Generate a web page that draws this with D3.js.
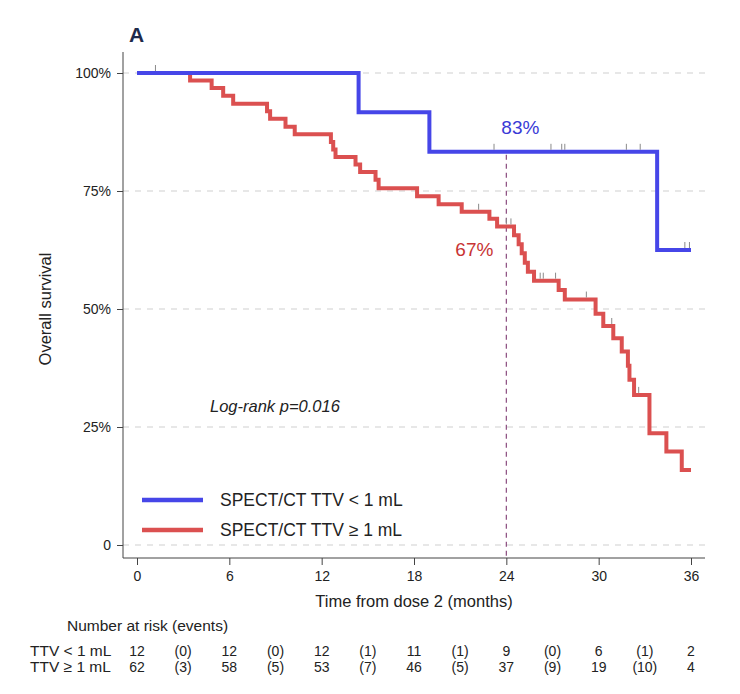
<!DOCTYPE html>
<html><head><meta charset="utf-8">
<script src="https://cdn.jsdelivr.net/npm/d3@7"></script>
<style>
body{margin:0;background:#fff}
text{font-family:"Liberation Sans",Arial,Helvetica,sans-serif;fill:#222}
</style>
</head><body><svg id="c" width="740" height="694"></svg>
<script>
// ---- data ----
const xTicks = [0, 6, 12, 18, 24, 30, 36];
const yTicks = [0, 0.25, 0.5, 0.75, 1];
const yTickLabels = ["0", "25%", "50%", "75%", "100%"];

const blueTimes = [0, 14.4, 19.0, 33.8];
const blueSurv  = [1, 0.917, 0.833, 0.625];
const blueCensor = [23.2, 26.9, 27.6, 27.8, 31.8, 32.7, 35.6, 35.9];

const redTimes = [0, 3.45, 4.85, 5.6, 6.25, 8.45, 8.65, 9.65, 10.25, 12.6, 12.75, 12.9, 14.2, 14.5, 15.5, 15.7,
  18.2, 19.6, 21.1, 22.9, 23.4, 24.5, 24.8, 25.0, 25.2, 25.4, 25.8, 27.4, 27.8, 29.8, 30.3, 30.95, 31.5, 31.9, 32.0,
  32.3, 33.3, 34.4, 35.4];
const redSurv = [1, 0.984, 0.968, 0.952, 0.935, 0.919, 0.903, 0.886, 0.870, 0.854, 0.838, 0.822, 0.806, 0.790, 0.774, 0.756,
  0.739, 0.722, 0.706, 0.691, 0.675, 0.656, 0.637, 0.618, 0.598, 0.579, 0.560, 0.540, 0.520, 0.490, 0.464, 0.438, 0.410, 0.380, 0.350,
  0.318, 0.237, 0.198, 0.159];
const redCensor = [1.2, 22.2, 24.0, 24.3, 26.2, 26.4, 27.2, 29.2, 30.85, 32.6];
const endTime = 36;

const riskTimes = [0, 6, 12, 18, 24, 30, 36];
const riskLow = [12, 12, 12, 11, 9, 6, 2];
const eventsLow = [0, 0, 1, 1, 0, 1];
const riskHigh = [62, 58, 53, 46, 37, 19, 4];
const eventsHigh = [3, 5, 7, 5, 9, 10];

const markTime = 24;
const blueLabel = "83%", redLabel = "67%";

// ---- drawing ----
const svg = d3.select("#c");
const x = d3.scaleLinear().domain([0, 36]).range([137, 691]);
const y = d3.scaleLinear().domain([0, 1]).range([545, 73]);
const xAxisY = 558, yAxisX = 123;
const xLeft = yAxisX, xRight = 705, yTop = 52;

const BLUE = "#4646e8", RED = "#db5050";

// grid
svg.append("g").selectAll("line").data(yTicks).join("line")
  .attr("x1", xLeft).attr("x2", xRight).attr("y1", d => y(d)).attr("y2", d => y(d))
  .attr("stroke", "#cfcfcf").attr("stroke-width", 1).attr("stroke-dasharray", "6,6");

// axes
const gy = svg.append("g").attr("transform", `translate(${yAxisX},0)`)
  .call(d3.axisLeft(y).tickValues(yTicks).tickFormat((d, i) => yTickLabels[i]).tickSize(6).tickPadding(6));
gy.select(".domain").remove();
gy.selectAll("text").style("font-size", "14px").attr("fill", "#222");
gy.selectAll("line").attr("stroke", "#444");
svg.append("line").attr("x1", yAxisX).attr("x2", yAxisX).attr("y1", yTop).attr("y2", xAxisY).attr("stroke", "#444");

const gx = svg.append("g").attr("transform", `translate(0,${xAxisY})`)
  .call(d3.axisBottom(x).tickValues(xTicks).tickFormat(d3.format("d")).tickSize(7).tickPadding(6));
gx.select(".domain").remove();
gx.selectAll("text").style("font-size", "14px").attr("fill", "#222");
gx.selectAll("line").attr("stroke", "#444");
svg.append("line").attr("x1", xLeft).attr("x2", xRight).attr("y1", xAxisY).attr("y2", xAxisY).attr("stroke", "#444");

// axis titles
svg.append("text").attr("x", (x(0) + x(36)) / 2).attr("y", 607).attr("text-anchor", "middle")
  .style("font-size", "16.5px").text("Time from dose 2 (months)");
svg.append("text").attr("transform", `translate(51,${y(0.5)}) rotate(-90)`).attr("text-anchor", "middle")
  .style("font-size", "16.5px").text("Overall survival");

// panel letter
svg.append("text").attr("x", 129).attr("y", 42).style("font-size", "21px").style("font-weight", "bold")
  .style("fill", "#1e2a4a").text("A");

// dashed vertical at 24
const stepVal = (times, surv, t) => surv[Math.max(0, d3.bisectRight(times, t) - 1)];
svg.append("line").attr("x1", x(markTime)).attr("x2", x(markTime))
  .attr("y1", y(stepVal(blueTimes, blueSurv, markTime)) + 3).attr("y2", xAxisY)
  .attr("stroke", "#8a4a7e").attr("stroke-width", 1.2).attr("stroke-dasharray", "5,4");

// curves
const line = d3.line().x(d => x(d[0])).y(d => y(d[1])).curve(d3.curveStepAfter);
function pts(times, surv) {
  const p = times.map((t, i) => [t, surv[i]]);
  p.push([endTime, surv[surv.length - 1]]);
  return p;
}
svg.append("path").attr("d", line(pts(redTimes, redSurv))).attr("fill", "none")
  .attr("stroke", RED).attr("stroke-width", 4);
svg.append("path").attr("d", line(pts(blueTimes, blueSurv))).attr("fill", "none")
  .attr("stroke", BLUE).attr("stroke-width", 4);

// censor marks
function censor(times, surv, cs) {
  svg.append("g").selectAll("line").data(cs).join("line")
    .attr("x1", d => x(d)).attr("x2", d => x(d))
    .attr("y1", d => y(stepVal(times, surv, d)) - 2).attr("y2", d => y(stepVal(times, surv, d)) - 8)
    .attr("stroke", "#8a8a8a").attr("stroke-width", 1);
}
censor(redTimes, redSurv, redCensor);
censor(blueTimes, blueSurv, blueCensor);

// value labels
svg.append("text").attr("x", x(markTime) + 14).attr("y", 134).attr("text-anchor", "middle")
  .style("font-size", "19px").style("fill", "#3a3ad6").text(blueLabel);
svg.append("text").attr("x", x(markTime) - 32).attr("y", 256).attr("text-anchor", "middle")
  .style("font-size", "19px").style("fill", "#c83434").text(redLabel);

// log-rank
svg.append("text").attr("x", 210).attr("y", 412).style("font-size", "16.5px").style("font-style", "italic")
  .text("Log-rank p=0.016");

// legend
const legend = [{c: BLUE, t: "SPECT/CT TTV < 1 mL", yy: 500}, {c: RED, t: "SPECT/CT TTV \u2265 1 mL", yy: 530}];
legend.forEach(l => {
  svg.append("line").attr("x1", 142).attr("x2", 203).attr("y1", l.yy).attr("y2", l.yy)
    .attr("stroke", l.c).attr("stroke-width", 4.5);
  svg.append("text").attr("x", 220).attr("y", l.yy + 6).style("font-size", "17.5px").text(l.t);
});

// risk table
svg.append("text").attr("x", 67).attr("y", 631).style("font-size", "15.5px").text("Number at risk (events)");
const rows = [{lab: "TTV < 1 mL", r: riskLow, e: eventsLow, yy: 656}, {lab: "TTV \u2265 1 mL", r: riskHigh, e: eventsHigh, yy: 672}];
rows.forEach(row => {
  svg.append("text").attr("x", 30).attr("y", row.yy).style("font-size", "15.5px").text(row.lab);
  svg.append("g").selectAll("text").data(riskTimes).join("text")
    .attr("x", d => x(d)).attr("y", row.yy).attr("text-anchor", "middle").style("font-size", "14px")
    .text((d, i) => row.r[i]);
  svg.append("g").selectAll("text").data(riskTimes.slice(0, -1)).join("text")
    .attr("x", d => x(d + 3)).attr("y", row.yy).attr("text-anchor", "middle").style("font-size", "14px")
    .text((d, i) => "(" + row.e[i] + ")");
});
</script>
</body></html>
